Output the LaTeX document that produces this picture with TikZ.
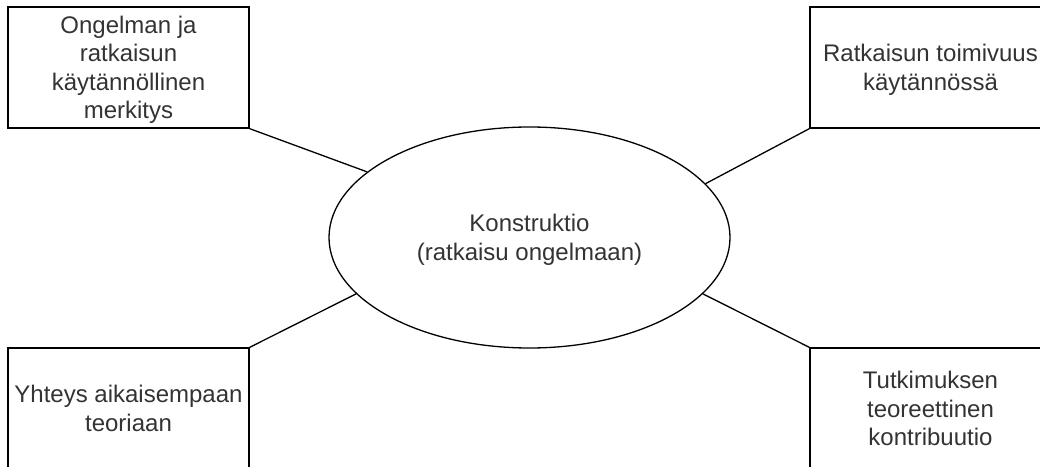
\documentclass[tikz,border=0pt]{standalone}
\usepackage{fontspec}
\setmainfont{Liberation Sans}
\usetikzlibrary{shapes.geometric}

\begin{document}
\begin{tikzpicture}
  [x=1pt,y=1pt,every node/.style={draw,line width=1.3pt,align=center,text=black!80,text depth=-5pt,font=\fontsize{24}{28.5}\selectfont}]

	\tikzset{
	box/.style = {rectangle,minimum width=241pt,minimum height=121pt,inner sep=0pt},
	konstr/.style = {ellipse,minimum width=401pt,minimum height=221pt,inner sep=0pt}
	}

  \useasboundingbox (0,0) rectangle (1040,466);

  \node[konstr] (kon) at (529.5,228.5) {Konstruktio\\(ratkaisu ongelmaan)};
  \node[box] (merk) at (128.5,398.5) {Ongelman ja\\ratkaisun\\käytännöllinen\\merkitys};
  \node[box] (toim) at (930.5,398.5) {Ratkaisun toimivuus\\käytännössä};
  \node[box] (teor) at (128.5,57.5)  {Yhteys aikaisempaan\\teoriaan};
  \node[box] (kontr) at (930.5,57.5) {Tutkimuksen\\teoreettinen\\kontribuutio};

  \foreach \from/\to in {merk.south east/kon.158,toim.south west/kon.17.5,teor.north east/kon.198,kontr.north west/kon.342.6}
    \draw[line width=1.3pt] (\from) -- (\to);

\end{tikzpicture}
\end{document}
